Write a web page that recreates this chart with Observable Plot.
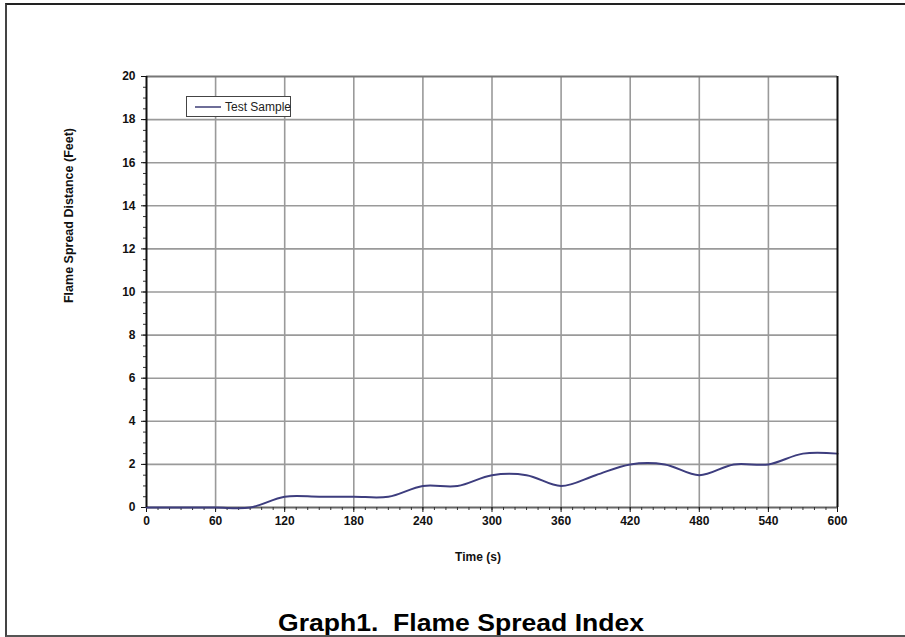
<!DOCTYPE html>
<html>
<head>
<meta charset="utf-8">
<script src="https://cdn.jsdelivr.net/npm/d3@7"></script>
<script src="https://cdn.jsdelivr.net/npm/@observablehq/plot@0.6"></script>
<style>
  html, body { margin: 0; padding: 0; background: #fff; overflow: hidden; }
  #wrap { position: relative; width: 905px; height: 637px; overflow: hidden; }
  #frame { position: absolute; left: 5px; top: 3px; width: 900px; height: 634px;
           border-left: 2.5px solid #444; border-top: 2px solid #222; border-bottom: 2px solid #555;
           pointer-events: none; box-sizing: border-box; }
  #legend { position: absolute; left: 186px; top: 96px; width: 105px; height: 21px;
            box-sizing: border-box; border: 1px solid #444; background: #fff;
            font-family: 'Liberation Sans', Arial, sans-serif; font-size: 12px; color: #222; white-space: nowrap; }
  #legend .swatch { position: absolute; left: 8px; top: 9px; width: 26px; height: 2px; background: #6e6e98; }
  #legend .lbl { position: absolute; left: 38px; top: 3px; line-height: 14px; }
</style>
</head>
<body>
<div id="wrap">
  <div id="chart"></div>
  <div id="legend"><div class="swatch"></div><div class="lbl">Test Sample</div></div>
  <div id="frame"></div>
</div>
<script>
const times = [0, 30, 60, 90, 120, 150, 180, 210, 240, 270, 300, 330, 360, 390, 420, 450, 480, 510, 540, 570, 600];
const spread = [0, 0, 0, 0, 0.5, 0.5, 0.5, 0.5, 1.0, 1.0, 1.5, 1.5, 1.0, 1.5, 2.0, 2.0, 1.5, 2.0, 2.0, 2.5, 2.5];
const xTicks = [0, 60, 120, 180, 240, 300, 360, 420, 480, 540, 600];
const yTicks = [0, 2, 4, 6, 8, 10, 12, 14, 16, 18, 20];
const xMinor = d3.range(0, 601, 10);
const yMinor = d3.range(0, 20.01, 0.5);
const seriesName = "Test Sample";
const xLabel = "Time (s)";
const yLabel = "Flame Spread Distance (Feet)";
const title = "Graph1.  Flame Spread Index";

const data = times.map((t, i) => ({time: t, value: spread[i]}));
const font = "'Liberation Sans', Arial, sans-serif";

const chart = Plot.plot({
  width: 905,
  height: 637,
  marginLeft: 146,
  marginRight: 68,
  marginTop: 76,
  marginBottom: 130,
  style: {fontFamily: font, fontSize: "12px", fontWeight: "bold", color: "#111", background: "#fff"},
  x: {domain: [0, 600]},
  y: {domain: [0, 20]},
  marks: [
    Plot.ruleX(xTicks.slice(1, -1), {stroke: "#9a9a9a", strokeWidth: 1.6}),
    Plot.ruleY(yTicks.slice(1, -1), {stroke: "#9a9a9a", strokeWidth: 1.6}),
    Plot.ruleY([20], {stroke: "#777", strokeWidth: 2}),
    Plot.ruleY([0], {stroke: "#666", strokeWidth: 2}),
    Plot.axisX({ticks: xMinor, tickSize: 3, tickFormat: () => "", label: null, stroke: "#333"}),
    Plot.axisY({ticks: yMinor, tickSize: 3, tickFormat: () => "", label: null, stroke: "#333"}),
    Plot.axisX({ticks: xTicks, tickSize: 5, tickPadding: 4, label: null, stroke: "#111", fontWeight: "bold"}),
    Plot.axisY({ticks: yTicks, tickSize: 5, tickPadding: 6, label: null, stroke: "#111", fontWeight: "bold"}),
    Plot.line(data, {x: "time", y: "value", curve: "catmull-rom", stroke: "#3d3d7e", strokeWidth: 2}),
    Plot.ruleX([0], {stroke: "#111", strokeWidth: 2}),
    Plot.ruleX([600], {stroke: "#111", strokeWidth: 2}),
    Plot.text([yLabel], {frameAnchor: "top-left", dx: -78, dy: 139, rotate: -90, textAnchor: "middle", lineAnchor: "middle", fontSize: 12.5, fontWeight: "bold", fill: "#111"}),
    Plot.text([xLabel], {frameAnchor: "bottom", dx: -14, dy: 50, textAnchor: "middle", lineAnchor: "middle", fontSize: 12, fontWeight: "bold", fill: "#111"}),
    Plot.text([title], {frameAnchor: "bottom", dx: -31, dy: 116, textAnchor: "middle", lineAnchor: "middle", fontSize: 24, fontWeight: "bold", fill: "#000", className: "ttl"})
  ]
});
d3.select(chart).selectAll("g.ttl text").attr("textLength", 366).attr("lengthAdjust", "spacingAndGlyphs");
document.getElementById("chart").appendChild(chart);
</script>
</body>
</html>
